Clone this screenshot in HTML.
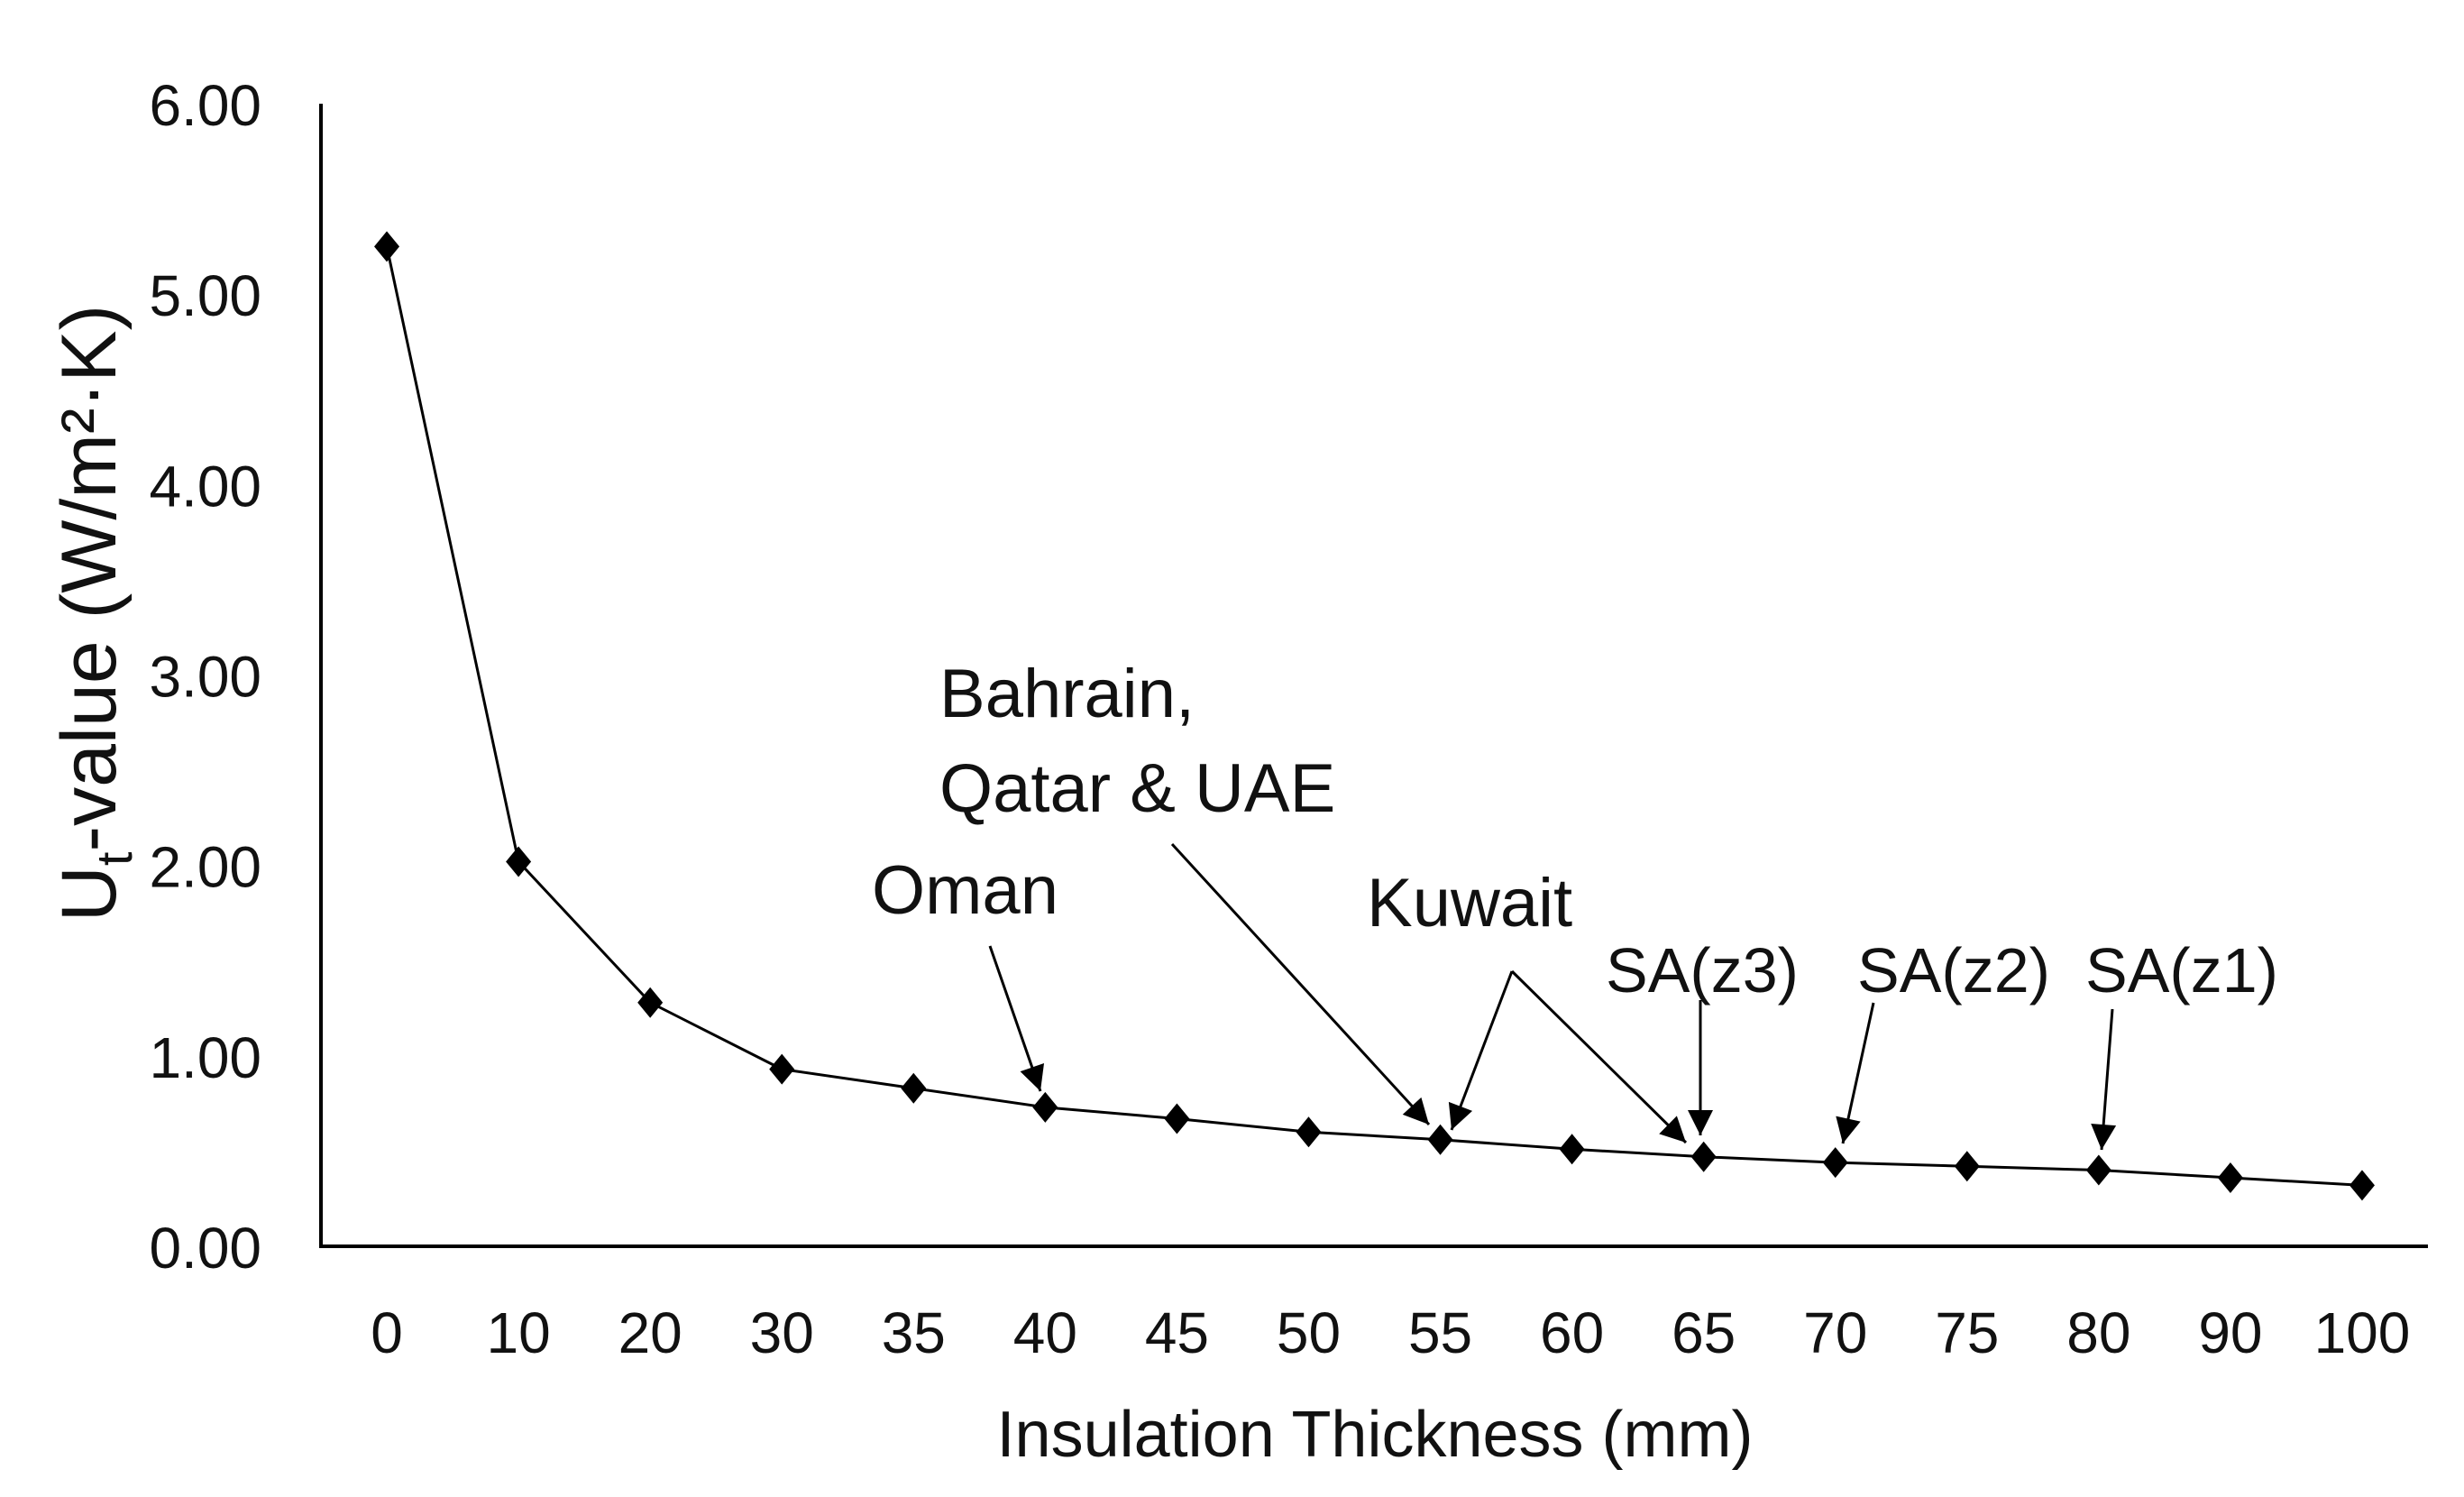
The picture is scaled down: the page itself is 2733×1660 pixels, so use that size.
<!DOCTYPE html>
<html><head><meta charset="utf-8"><style>
html,body{margin:0;padding:0;background:#fff;}
svg{display:block;font-family:"Liberation Sans",sans-serif;}
</style></head><body>
<svg id="chart" width="2733" height="1660" viewBox="0 0 2733 1660">
<defs><marker id="ah" viewBox="0 0 10 10" refX="10" refY="5" markerWidth="38" markerHeight="28" markerUnits="userSpaceOnUse" orient="auto"><path d="M0,0 L10,5 L0,10 z" fill="#000"/></marker></defs>
<g id="yticks"></g>
<g id="xticks"></g>
<line x1="356" y1="115" x2="356" y2="1382" stroke="#000" stroke-width="4"/>
<line x1="354" y1="1382" x2="2693" y2="1382" stroke="#000" stroke-width="4"/>
<g id="series"></g>
<text x="1525" y="1615" font-size="72" text-anchor="middle" fill="#111">Insulation Thickness (mm)</text>
<text transform="translate(128,680) rotate(-90)" font-size="86" text-anchor="middle" fill="#111">U<tspan font-size="56" dy="18">t</tspan><tspan dy="-18">-value (W/m²·K)</tspan></text>
<g font-size="76" fill="#111">
<text x="1042" y="795">Bahrain,</text>
<text x="1042" y="900">Qatar &amp; UAE</text>
<text x="967" y="1013">Oman</text>
<text x="1516" y="1027">Kuwait</text>
<text x="1781" y="1100" font-size="70">SA(z3)</text>
<text x="2060" y="1100" font-size="70">SA(z2)</text>
<text x="2313" y="1100" font-size="70">SA(z1)</text>
</g>
<g stroke="#000" stroke-width="3" fill="none" marker-end="url(#ah)">
<line x1="1098" y1="1049" x2="1154" y2="1210"/>
<line x1="1300" y1="936" x2="1585" y2="1247"/>
<line x1="1677" y1="1077" x2="1610" y2="1253"/>
<line x1="1677" y1="1077" x2="1870" y2="1267"/>
<line x1="1886" y1="1109" x2="1886" y2="1259"/>
<line x1="2078" y1="1112" x2="2044" y2="1268"/>
<line x1="2343" y1="1119" x2="2331" y2="1275"/>
</g>
</svg>
<script>
const categories = ["0","10","20","30","35","40","45","50","55","60","65","70","75","80","90","100"];
const values = [5.25,2.02,1.28,0.93,0.83,0.73,0.67,0.60,0.56,0.51,0.47,0.44,0.42,0.40,0.36,0.32];
const yTicks = [0,1,2,3,4,5,6];
const yTickLabels = ["0.00","1.00","2.00","3.00","4.00","5.00","6.00"];
const NS="http://www.w3.org/2000/svg";
const x0=356,x1=2693,yBase=1382,yTop=115,yMax=6;
const band=(x1-x0)/categories.length;
function xs(i){return x0+band*(i+0.5);}
function ys(v){return yBase-(v/yMax)*(yBase-yTop);}
const yg=document.getElementById('yticks');
yTicks.forEach((t,i)=>{const e=document.createElementNS(NS,'text');
e.setAttribute('x',290);e.setAttribute('y',ys(t)+24);e.setAttribute('font-size','64');e.setAttribute('text-anchor','end');e.setAttribute('fill','#111');


e.textContent=yTickLabels[i];yg.appendChild(e);});
const xg=document.getElementById('xticks');
categories.forEach((c,i)=>{const e=document.createElementNS(NS,'text');
e.setAttribute('x',xs(i));e.setAttribute('y',1500);e.setAttribute('font-size','64');e.setAttribute('text-anchor','middle');e.setAttribute('fill','#111');


e.textContent=c;xg.appendChild(e);});
const sg=document.getElementById('series');
const pl=document.createElementNS(NS,'polyline');
pl.setAttribute('points',values.map((v,i)=>xs(i)+','+ys(v)).join(' '));
pl.setAttribute('fill','none');pl.setAttribute('stroke','#000');pl.setAttribute('stroke-width','3');


sg.appendChild(pl);
values.forEach((v,i)=>{const x=xs(i),y=ys(v);const p=document.createElementNS(NS,'polygon');
p.setAttribute('points',`${x},${y-17} ${x+14},${y} ${x},${y+17} ${x-14},${y}`);p.setAttribute('fill','#000');


sg.appendChild(p);});
</script>
</body></html>
